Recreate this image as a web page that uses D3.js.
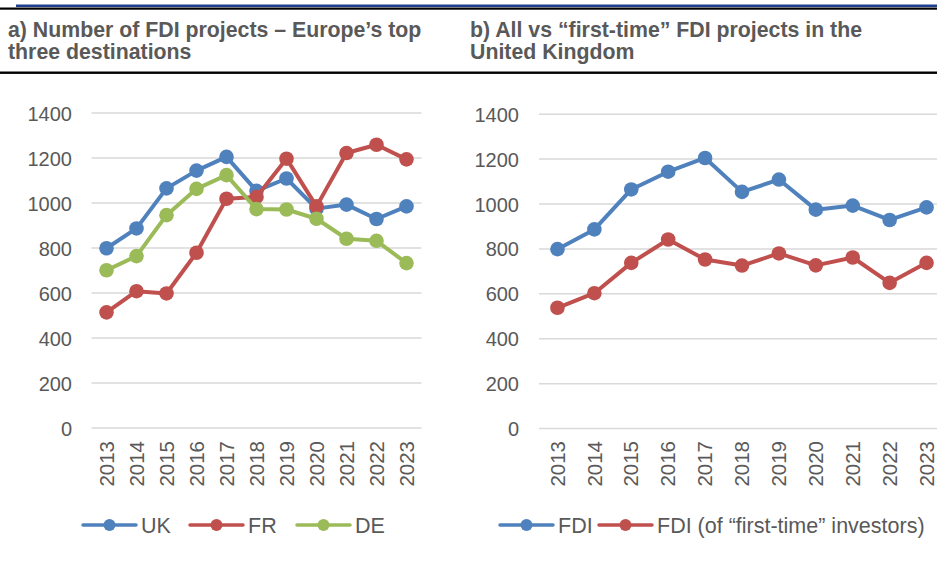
<!DOCTYPE html>
<html>
<head>
<meta charset="utf-8">
<script src="https://cdn.jsdelivr.net/npm/d3@7"></script>
<style>
  html, body { margin: 0; padding: 0; background: #fff; }
  svg { display: block; font-family: "Liberation Sans", Arial, sans-serif; }
</style>
</head>
<body>
<svg id="chart" width="937" height="562"></svg>
<script>
// Years on the category axis
const years = ["2013","2014","2015","2016","2017","2018","2019","2020","2021","2022","2023"];

// Panel a) FDI projects in Europe's top three destinations
const ukProjects = [799, 887, 1065, 1144, 1205, 1054, 1109, 975, 993, 929, 985];
const frProjects = [514, 608, 598, 779, 1019, 1027, 1197, 985, 1222, 1259, 1194];
const deProjects = [701, 764, 946, 1063, 1124, 973, 971, 930, 841, 832, 733];

// Panel b) UK: all projects vs projects by first-time investors
const ukAll = [799, 887, 1065, 1144, 1205, 1054, 1109, 975, 993, 929, 985];
const ukFirstTime = [538, 603, 738, 842, 753, 726, 780, 727, 762, 649, 738];

// Value axis ticks
const yTicks = [0, 200, 400, 600, 800, 1000, 1200, 1400];

const BLUE = "#4F81BD", RED = "#C0504D", GREEN = "#9BBB59";
const TEXT = "#595959", GRID = "#D9D9D9";

const svg = d3.select("#chart");

// Header rules
svg.append("rect").attr("x", 16).attr("y", 4.5).attr("width", 921).attr("height", 2.5).attr("fill", "#1F3F8F");
svg.append("rect").attr("x", 0).attr("y", 7.5).attr("width", 937).attr("height", 2.2).attr("fill", "#000");
svg.append("rect").attr("x", 0).attr("y", 71.5).attr("width", 937).attr("height", 2.4).attr("fill", "#000");

function title(x, lines) {
  const t = svg.append("text")
    .attr("x", x).attr("y", 37)
    .attr("fill", TEXT).attr("font-weight", "bold").attr("font-size", 21.3);
  lines.forEach((l, i) => {
    t.append("tspan").attr("x", x).attr("dy", i === 0 ? 0 : 22).text(l);
  });
}
title(8, ["a) Number of FDI projects – Europe’s top", "three destinations"]);
title(470, ["b) All vs “first-time” FDI projects in the", "United Kingdom"]);

function panel(opts) {
  const x = d3.scaleBand().domain(years).range(opts.xRange).padding(0);
  const y = d3.scaleLinear().domain([0, 1400]).range(opts.yRange);
  const g = svg.append("g");

  // gridlines
  g.append("g").selectAll("line").data(yTicks).join("line")
    .attr("x1", opts.xRange[0]).attr("x2", opts.xRange[1])
    .attr("y1", d => y(d)).attr("y2", d => y(d))
    .attr("stroke", GRID).attr("stroke-width", 1.5);

  // value axis labels
  const ya = g.append("g")
    .attr("transform", `translate(${opts.yLabelX},0)`)
    .call(d3.axisLeft(y).tickValues(yTicks).tickSize(0).tickPadding(0).tickFormat(d3.format("d")));
  ya.select(".domain").remove();
  ya.selectAll("text").attr("fill", TEXT).attr("font-size", 20)
    .attr("font-family", "Liberation Sans, Arial, sans-serif").attr("dy", "0.35em");

  // category axis labels, rotated
  g.append("g").selectAll("text").data(years).join("text")
    .attr("transform", d => `translate(${x(d) + x.bandwidth() / 2},${opts.xLabelY}) rotate(-90)`)
    .attr("text-anchor", "end").attr("dy", "0.35em")
    .attr("fill", TEXT).attr("font-size", 20.5)
    .text(d => d);

  const line = d3.line()
    .x((d, i) => x(years[i]) + x.bandwidth() / 2)
    .y(d => y(d));

  opts.series.forEach(s => {
    g.append("path").datum(s.values)
      .attr("d", line).attr("fill", "none")
      .attr("stroke", s.color).attr("stroke-width", 4)
      .attr("stroke-linejoin", "round");
    g.append("g").selectAll("circle").data(s.values).join("circle")
      .attr("cx", (d, i) => x(years[i]) + x.bandwidth() / 2)
      .attr("cy", d => y(d))
      .attr("r", 7.3).attr("fill", s.color);
  });

  // legend
  const lg = g.append("g").attr("transform", `translate(0,${opts.legendY})`);
  opts.legend.forEach(item => {
    const it = lg.append("g").attr("transform", `translate(${item.x},0)`);
    it.append("line").attr("x1", 0).attr("x2", 53).attr("y1", 0).attr("y2", 0)
      .attr("stroke", item.color).attr("stroke-width", 3.5).attr("stroke-linecap", "round");
    it.append("circle").attr("cx", 26.5).attr("cy", 0).attr("r", 6).attr("fill", item.color);
    it.append("text").attr("x", 58).attr("y", 0).attr("dy", "0.35em")
      .attr("fill", TEXT).attr("font-size", 21.5).text(item.label);
  });
}

panel({
  xRange: [91.5, 421.5],
  yRange: [428, 113],
  yLabelX: 72,
  xLabelY: 441,
  legendY: 525,
  series: [
    { values: ukProjects, color: BLUE },
    { values: frProjects, color: RED },
    { values: deProjects, color: GREEN }
  ],
  legend: [
    { x: 83, color: BLUE, label: "UK" },
    { x: 190, color: RED, label: "FR" },
    { x: 297, color: GREEN, label: "DE" }
  ]
});

panel({
  xRange: [539, 945],
  yRange: [428.6, 114.2],
  yLabelX: 519,
  xLabelY: 441,
  legendY: 525,
  series: [
    { values: ukAll, color: BLUE },
    { values: ukFirstTime, color: RED }
  ],
  legend: [
    { x: 500, color: BLUE, label: "FDI" },
    { x: 599, color: RED, label: "FDI (of “first-time” investors)" }
  ]
});
</script>
</body>
</html>
